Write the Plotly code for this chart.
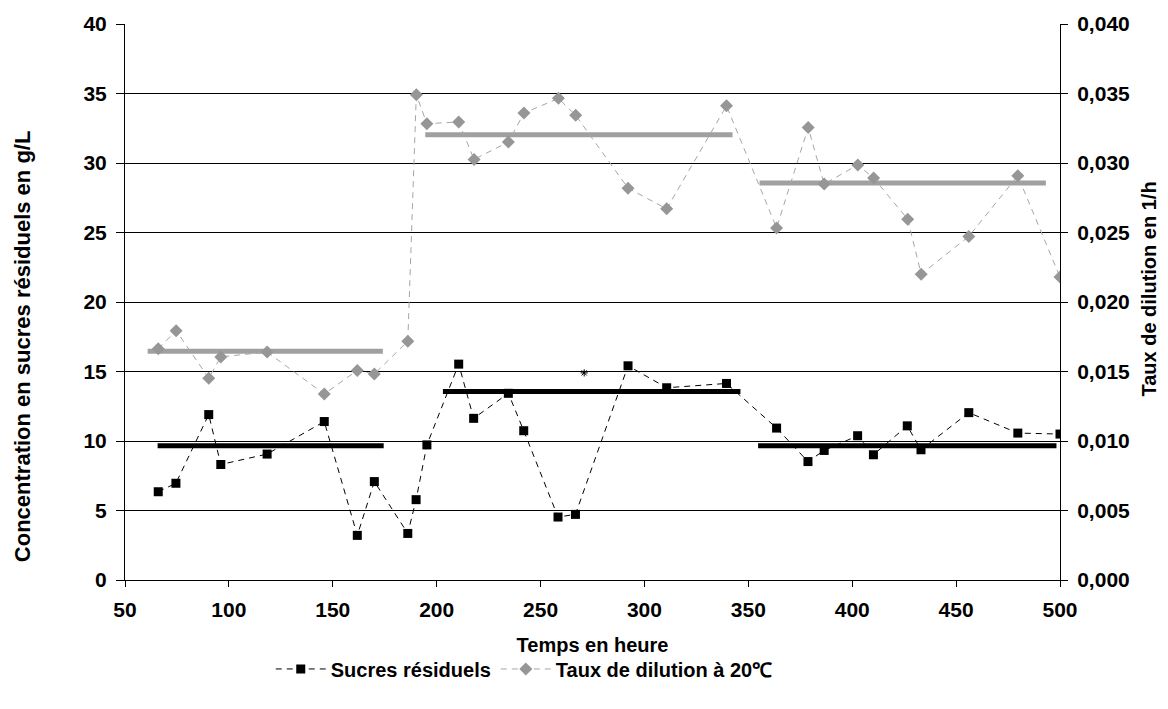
import plotly.graph_objects as go

# Sucres résiduels (g/L)
t_sucres = [66, 74.5, 90.3, 96.1, 118.4, 145.9, 161.8, 170, 186.1, 190.1, 195.3,
            210.6, 217.8, 234.5, 241.9, 258.4, 266.8, 292.1, 310.7, 339.5, 363.6,
            378.7, 386.5, 402.6, 410.2, 426.5, 433.1, 456.1, 479.7, 500]
sucres = [6.35, 6.96, 11.9, 8.31, 9.06, 11.4, 3.21, 7.08, 3.35, 5.78, 9.72,
          15.53, 11.63, 13.43, 10.74, 4.53, 4.72, 15.41, 13.83, 14.14, 10.93,
          8.52, 9.32, 10.38, 9.01, 11.09, 9.37, 12.04, 10.57, 10.5]

# Taux de dilution à 20°C (1/h)
t_dil = [66, 74.6, 90.3, 96.1, 118.4, 145.9, 161.8, 170, 186.1, 190.2, 195.3,
         210.6, 218, 234.5, 242, 258.6, 266.9, 292.1, 310.7, 339.5, 363.6,
         378.8, 386.5, 402.7, 410.3, 426.7, 433.2, 456.1, 479.7, 500]
dilution = [0.01664, 0.01794, 0.01452, 0.01605, 0.01640, 0.01338, 0.01508, 0.01482,
            0.01718, 0.03491, 0.03283, 0.03295, 0.03026, 0.03151, 0.03359, 0.03465,
            0.03343, 0.02819, 0.02670, 0.03411, 0.02533, 0.03255, 0.02849, 0.02986,
            0.02892, 0.02596, 0.02200, 0.02472, 0.02908, 0.02179]

# Moyennes par palier
mean_sucres_x = [[65.7, 174.5], [203, 346.2], [354.7, 498.3]]
mean_sucres_y = [9.65, 13.57, 9.65]
mean_dil_x = [[60.9, 174.1], [194.5, 342.4], [355.4, 493.2]]
mean_dil_y = [0.01645, 0.03203, 0.02856]

star_x = [271]
star_y = [14.9]

y_title_left = "Concentration en sucres résiduels en g/L"
y_title_right = "Taux de dilution en 1/h"
x_title = "Temps en heure"

FONT = "Arial"
GRAY = "#969696"

fig = go.Figure()

for xs, yv in zip(mean_dil_x, mean_dil_y):
    fig.add_trace(go.Scatter(x=xs, y=[yv, yv], yaxis="y2", mode="lines",
                             line=dict(color="#A0A0A0", width=5),
                             showlegend=False, hoverinfo="skip"))
for xs, yv in zip(mean_sucres_x, mean_sucres_y):
    fig.add_trace(go.Scatter(x=xs, y=[yv, yv], mode="lines",
                             line=dict(color="black", width=5),
                             showlegend=False, hoverinfo="skip"))

fig.add_trace(go.Scatter(x=t_sucres, y=sucres, mode="lines+markers",
                         name="Sucres résiduels",
                         line=dict(color="black", width=1, dash="6px,5px"),
                         marker=dict(symbol="square", size=9, color="black")))
fig.add_trace(go.Scatter(x=t_dil, y=dilution, yaxis="y2", mode="lines+markers",
                         name="Taux de dilution à 20℃",
                         line=dict(color="#A6A6A6", width=1, dash="6px,5px"),
                         marker=dict(symbol="diamond", size=10, color=GRAY)))
fig.add_trace(go.Scatter(x=star_x, y=star_y, mode="markers", showlegend=False,
                         marker=dict(symbol="asterisk-open", size=6, color="black",
                                     line=dict(color="black", width=1))))

tickfont = dict(family=FONT, size=21, color="black", weight="bold")
titlefont = dict(family=FONT, size=20, color="black", weight="bold")

fig.add_annotation(text=y_title_left, textangle=-90, xref="paper", yref="paper",
                   x=-0.1096, y=0.4197, xanchor="center", yanchor="middle", showarrow=False,
                   font=dict(family=FONT, size=22, color="black", weight="bold"))
fig.add_annotation(text=y_title_right, textangle=-90, xref="paper", yref="paper",
                   x=1.0952, y=0.5224, xanchor="center", yanchor="middle", showarrow=False,
                   font=dict(family=FONT, size=20, color="black", weight="bold"))

fig.update_layout(
    width=1152, height=693,
    paper_bgcolor="white", plot_bgcolor="white",
    separators=",.",
    margin=dict(l=117, r=100, t=16, b=113),
    showlegend=True,
    legend=dict(orientation="h", x=0.427, xanchor="center", y=-0.16, yanchor="middle",
                itemwidth=50,
                font=dict(family=FONT, size=20, color="black", weight="bold"),
                traceorder="normal"),
    xaxis=dict(range=[50, 500], dtick=50, tick0=50, showgrid=False, automargin=False,
               showline=True, linecolor="black", linewidth=1,
               ticks="outside", ticklen=6, tickcolor="black", ticklabelstandoff=5,
               tickfont=tickfont, zeroline=False,
               title=dict(text=x_title, font=titlefont, standoff=17)),
    yaxis=dict(range=[0, 40], dtick=5, showgrid=True, gridcolor="black", gridwidth=1,
               automargin=False,
               showline=True, linecolor="black", linewidth=1,
               ticks="outside", ticklen=8, tickcolor="black", ticklabelstandoff=5,
               tickfont=tickfont, zeroline=False),
    yaxis2=dict(range=[0, 0.04], dtick=0.005, overlaying="y", side="right",
                showgrid=False, automargin=False,
                showline=True, linecolor="black", linewidth=1,
                ticks="outside", ticklen=7, tickcolor="black", tickformat=".3f",
                ticklabelstandoff=5,
                tickfont=tickfont, zeroline=False),
)

fig.write_html("out.html")
